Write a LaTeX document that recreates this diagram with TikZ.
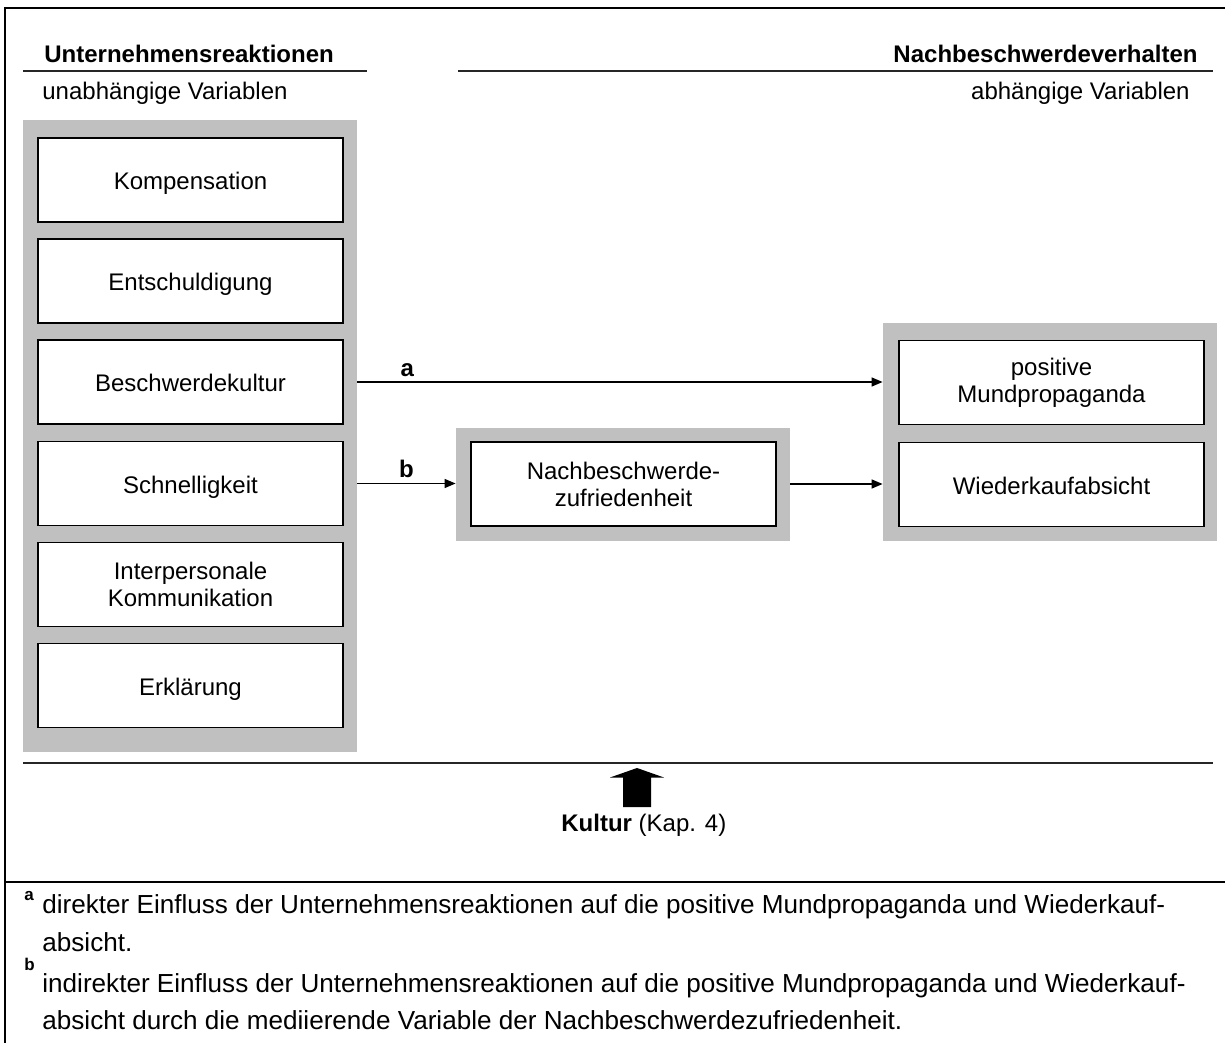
\documentclass[tikz,border=0pt]{standalone}
\usepackage{fontspec}
\setmainfont{Liberation Sans}
\usetikzlibrary{arrows.meta}
\definecolor{panelgray}{HTML}{C0C0C0}
\begin{document}
\begin{tikzpicture}[x=0.5pt,y=-0.5pt,
  font=\fontsize{12}{13.5}\selectfont,
  panel/.style={rectangle, fill=panelgray, draw=none, inner sep=0pt},
  varbox/.style={rectangle, draw, line width=0.8pt, fill=white, inner sep=0pt,
    minimum width=152.5pt, minimum height=42pt, align=center},
  oneline/.style={varbox, text height=9.6pt, text depth=0pt},
  arr/.style={-{Triangle[length=5.5pt,width=4.5pt]}, line width=0.7pt},
  rule/.style={line width=0.8pt, draw=black!85},
  lbl/.style={font=\fontsize{12}{13.5}\selectfont\bfseries, inner sep=0pt},
  fn/.style={anchor=base west, inner sep=0pt, font=\fontsize{13.05}{14}\selectfont},
  fnmark/.style={anchor=base west, inner sep=0pt, font=\fontsize{8.5}{9}\selectfont\bfseries}]
\useasboundingbox (0,0) rectangle (1225,1043);
% outer frame
\draw[line width=1.4pt] (1225,8) -- (5,8) -- (5,1043);
\draw[line width=1.1pt] (5,882) -- (1225,882);
% headings
\node[anchor=base west, inner sep=0pt, font=\fontsize{12}{13.5}\selectfont\bfseries] (hl) at (44,63) {Unternehmensreaktionen};
\node[anchor=base east, inner sep=0pt, font=\fontsize{12}{13.5}\selectfont\bfseries] (hr) at (1198,63) {Nachbeschwerdeverhalten};
\coordinate (ul1) at (23,71); \coordinate (ul2) at (367,71);
\coordinate (ur1) at (458,71); \coordinate (ur2) at (1213,71);
\draw[rule] (ul1) -- (ul2);
\draw[rule] (ur1) -- (ur2);
\node[anchor=base west, inner sep=0pt] (sl) at (42,100) {unabhängige Variablen};
\node[anchor=base east, inner sep=0pt] (sr) at (1190,100) {abhängige Variablen};
% left panel
\node[panel, minimum width=167pt, minimum height=316pt] (lp) at (190,436) {};
\node[oneline] (k1) at (190.5,180) {Kompensation};
\node[oneline] (k2) at (190.5,281) {Entschuldigung};
\node[oneline] (k3) at (190.5,382) {Beschwerdekultur};
\node[oneline] (k4) at (190.5,483.5) {Schnelligkeit};
\node[varbox] (k5) at (190.5,584.5) {Interpersonale\\Kommunikation};
\node[oneline] (k6) at (190.5,685.5) {Erklärung};
% middle panel
\node[panel, minimum width=167pt, minimum height=56.5pt] (mp) at (623,484.5) {};
\node[varbox] (m1) at (623.5,484) {Nachbeschwerde-\\zufriedenheit};
% right panel
\node[panel, minimum width=167pt, minimum height=109pt] (rp) at (1050,432) {};
\node[varbox] (r1) at (1051.5,382.5) {positive\\Mundpropaganda};
\node[oneline] (r2) at (1051.5,484.5) {Wiederkaufabsicht};
% connectors
\draw[arr] (k3.east -| lp.east) -- (k3.east -| rp.west) node[lbl, pos=0.095, above=2.5pt] {a};
\draw[arr] (k4.east -| lp.east) -- (k4.east -| mp.west) node[lbl, pos=0.5, above=2.5pt] {b};
\draw[arr] (m1.east -| mp.east) -- (m1.east -| rp.west);
% culture
\coordinate (cl1) at (23,763); \coordinate (cl2) at (1213,763);
\draw[rule] (cl1) -- (cl2);
\fill (637,768) -- (664,777.5) -- (651,777.5) -- (651,807) -- (623,807) -- (623,777.5) -- (610,777.5) -- cycle;
\node[anchor=base west, inner sep=0pt] (kul) at (561,831) {\textbf{Kultur} (Kap. 4)};
% footnotes
\node[fnmark] (fa) at (24,900) {a};
\node[fn] (fa1) at (42,913) {direkter Einfluss der Unternehmensreaktionen auf die positive Mundpropaganda und Wiederkauf-};
\node[fn] (fa2) at (42,951) {absicht.};
\node[fnmark] (fb) at (24,970) {b};
\node[fn] (fb1) at (42,992) {indirekter Einfluss der Unternehmensreaktionen auf die positive Mundpropaganda und Wiederkauf-};
\node[fn] (fb2) at (42,1029) {absicht durch die mediierende Variable der Nachbeschwerdezufriedenheit.};
\end{tikzpicture}
\end{document}
